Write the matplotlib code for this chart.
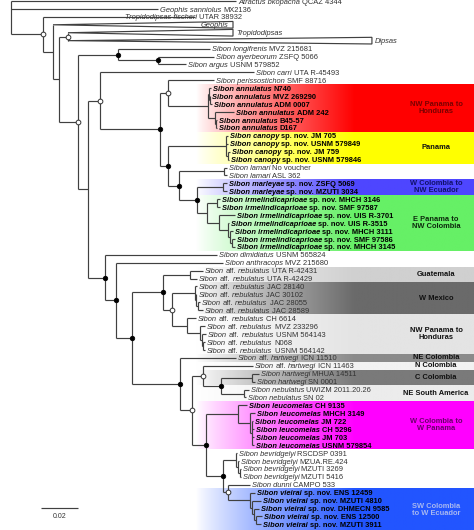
import numpy as np
import matplotlib
matplotlib.use("Agg")
import matplotlib.pyplot as plt
from matplotlib.patches import Polygon

# ---------------- data ----------------
# Newick tree (branch lengths in substitutions/site); leaves are row indices into LABELS
TREE = ("(0:0.1216,1:0.0795,(2:0.0822,(3:0.0973,((4:0.0892,5:0.1643)D:0.0049,"
        "((6:0.0497,(7:0.0303,8:0.0151)F2:0.0216)F:0.0216,"
        "((9:0.0832,"
        "((10:0.0249,((11:0.0011,(12:0.0003,13:0.0011)M1a:0.0005)M1:0.0005,"
        "(14:0.0103,(15:0.0005,16:0.0005)M2a:0.0005)M2:0.0038)M:0.0216)K:0.0043,"
        "((17:0.0011,18:0.0011,(19:0.0011,20:0.0005)P1:0.0011)P:0.0314,"
        "((21:0.0016,22:0.0016)Lam:0.0243,((23:0.0022,24:0.0022)Mar:0.0141,"
        "((25:0.0016,26:0.0016)S1:0.0054,(27:0.0086,(28:0.0005,(29:0.0016,"
        "(30:0.0016,31:0.0016)S5:0.0011)S4:0.0011)S3:0.0049)S2:0.0065)S:0.0054)R:0.0097)Q:0.0059)L:0.0043"
        ")J:0.0324)H:0.0065,"
        "(32:0.0605,(33:0.0578,"
        "(((34:0.0070,35:0.0038)Guat:0.0146,"
        "((36:0.0011,(37:0.0003,(38:0.0011,39:0.0027)Mex2:0.0011)Mex1:0.0005)Mex:0.0124,"
        "(40:0.0049,(41:0.0027,(42:0.0022,(43:0.0011,44:0.0011)Z3:0.0005)Z2:0.0011)Z:0.0070)Y:0.0081)X:0.0049)V:0.0168,"
        "(45:0.0303,"
        "((46:0.0270,((47:0.0038,48:0.0016)Hart:0.0168,(49:0.0027,50:0.0011)Neb:0.0124)AD:0.0097)AB:0.0059,"
        "((51:0.0049,(52:0.0027,(53:0.0005,54:0.0011,55:0.0011,56:0.0011)LC:0.0011)LB:0.0065)LA:0.0173,"
        "((57:0.0005,(58:0.0005,(59:0.0005,60:0.0005)BC:0.0011)BB:0.0011)BA:0.0070,"
        "(61:0.0119,(62:0.0027,(63:0.0049,(64:0.0027,(65:0.0032,66:0.0027)VD:0.0011)VC:0.0011)VB:0.0011)VA:0.0119)AF:0.0027"
        ")AE:0.0092)AC:0.0076)AA:0.0065)W:0.0259)U:0.0086)T:0.0059)I:0.0092"
        ")G:0.0054)E:0.0103)C:0.0032)B:0.0054)A:0.0173)Root;")

LABELS = [
    "*Atractus bkopacha* QCAZ 4344",
    "*Geophis sanniolus* MX2136",
    "*Tropidodipsas fischeri* UTAR 38932",
    "*Geophis*",
    "*Tropidodipsas*",
    "*Dipsas*",
    "*Sibon longifrenis* MVZ 215681",
    "*Sibon ayerbeorum* ZSFQ 5066",
    "*Sibon argus* USNM 579852",
    "*Sibon carri* UTA R-45493",
    "*Sibon perissostichon* SMF 88716",
    "*Sibon annulatus* N740",
    "*Sibon annulatus* MVZ 269290",
    "*Sibon annulatus* ADM 0007",
    "*Sibon annulatus* ADM 242",
    "*Sibon annulatus* B45-57",
    "*Sibon annulatus* D167",
    "*Sibon canopy* sp. nov. JM 705",
    "*Sibon canopy* sp. nov. USNM 579849",
    "*Sibon canopy* sp. nov. JM 759",
    "*Sibon canopy* sp. nov. USNM 579846",
    "*Sibon lamari* No voucher",
    "*Sibon lamari* ASL 362",
    "*Sibon marleyae* sp. nov. ZSFQ 5069",
    "*Sibon marleyae* sp. nov. MZUTI 3034",
    "*Sibon irmelindicaprioae* sp. nov. MHCH 3146",
    "*Sibon irmelindicaprioae* sp. nov. SMF 97587",
    "*Sibon irmelindicaprioae* sp. nov. UIS R-3701",
    "*Sibon irmelindicaprioae* sp. nov. UIS R-3515",
    "*Sibon irmelindicaprioae* sp. nov. MHCH 3111",
    "*Sibon irmelindicaprioae* sp. nov. SMF 97586",
    "*Sibon irmelindicaprioae* sp. nov. MHCH 3145",
    "*Sibon dimidiatus* USNM 565824",
    "*Sibon anthracops* MVZ 215680",
    "*Sibon* aff. *nebulatus* UTA R-42431",
    "*Sibon* aff. *nebulatus* UTA R-42429",
    "*Sibon* aff. *nebulatus* JAC 28140",
    "*Sibon* aff. *nebulatus* JAC 30102",
    "*Sibon* aff. *nebulatus* JAC 28055",
    "*Sibon* aff. *nebulatus* JAC 28589",
    "*Sibon* aff. *nebulatus* CH 6614",
    "*Sibon* aff. *nebulatus* MVZ 233296",
    "*Sibon* aff. *nebulatus* USNM 564143",
    "*Sibon* aff. *nebulatus* N068",
    "*Sibon* aff. *nebulatus* USNM 564142",
    "*Sibon* aff. *hartwegi* ICN 11510",
    "*Sibon* aff. *hartwegi* ICN 11463",
    "*Sibon hartwegi* MHUA 14511",
    "*Sibon hartwegi* SN 0001",
    "*Sibon nebulatus* UWIZM 2011.20.26",
    "*Sibon nebulatus* SN 02",
    "*Sibon leucomelas* CH 9135",
    "*Sibon leucomelas* MHCH 3149",
    "*Sibon leucomelas* JM 722",
    "*Sibon leucomelas* CH 5296",
    "*Sibon leucomelas* JM 703",
    "*Sibon leucomelas* USNM 579854",
    "*Sibon bevridgelyi* RSCDSP 0391",
    "*Sibon bevridgelyi* MZUA.RE.424",
    "*Sibon bevridgelyi* MZUTI 3269",
    "*Sibon bevridgelyi* MZUTI 5416",
    "*Sibon dunni* CAMPO 533",
    "*Sibon vieirai* sp. nov. ENS 12459",
    "*Sibon vieirai* sp. nov. MZUTI 4810",
    "*Sibon vieirai* sp. nov. DHMECN 9585",
    "*Sibon vieirai* sp. nov. ENS 12500",
    "*Sibon vieirai* sp. nov. MZUTI 3911",
]

BOLD_ROWS = list(range(11, 21)) + list(range(23, 32)) + list(range(51, 57)) + list(range(62, 67))
COLLAPSED_ROWS = [3, 4, 5]
FILLED_NODES = ["F", "F2", "J", "L", "Q", "R", "I", "T", "U", "V", "W", "AD", "AC", "AE"]
OPEN_NODES = ["A", "D", "E", "H", "K", "X", "AA", "AB", "AF"]

REGION_NAMES = ["NW Panama to\nHonduras", "Panama", "W Colombia to\nNW Ecuador",
                "E Panama to\nNW Colombia", "Guatemala", "W Mexico", "NW Panama to\nHonduras",
                "NE Colombia", "N Colombia", "C Colombia", "NE South America",
                "W Colombia to\nW Panama", "SW Colombia\nto W Ecuador"]
REGION_FIRST = [11, 17, 23, 25, 34, 36, 40, 45, 46, 47, 49, 51, 62]
REGION_LAST = [16, 20, 24, 31, 35, 39, 44, 45, 46, 48, 50, 56, 67]
REGION_COLORS = ["#ff0000", "#ffff00", "#4e46ff", "#66f066", "#d0d0d0", "#6a6a6a", "#e4e4e4",
                 "#8a8a8a", "#f2f2f2", "#7a7a7a", "#ececec", "#ff00ff", "#2255ff"]
REGION_TEXT_COLORS = ["#7a0000", "#111111", "#10106a", "#0d2a0d", "#111111", "#111111", "#111111",
                      "#111111", "#111111", "#111111", "#111111", "#6a006a", "#a8b8f0"]
SCALE_VALUE = 0.02

# ---------------- layout constants ----------------
W_PX, H_PX = 474, 530
PX_PER_UNIT = 1850.0      # scale bar 0.02 = 37 px
ROOT_PX = 11.0
ROW0_PX = 1.0
PX_PER_ROW = 7.93
FS = 5.45
FONT = "Liberation Sans"
LINE_C = "#404040"
LW = 0.85


def parse_newick(s):
    pos = 0

    def node():
        nonlocal pos
        children = []
        if s[pos] == "(":
            pos += 1
            while True:
                children.append(node())
                if s[pos] == ",":
                    pos += 1
                    continue
                if s[pos] == ")":
                    pos += 1
                    break
        start = pos
        while pos < len(s) and s[pos] not in ":,);":
            pos += 1
        name = s[start:pos]
        bl = 0.0
        if pos < len(s) and s[pos] == ":":
            pos += 1
            start = pos
            while s[pos] not in ",);":
                pos += 1
            bl = float(s[start:pos])
        return {"name": name, "bl": bl, "children": children}

    return node()


def layout(n, x0):
    n["x"] = x0 + n["bl"]
    if n["children"]:
        for c in n["children"]:
            layout(c, n["x"])
        n["y"] = (n["children"][0]["y"] + n["children"][-1]["y"]) / 2.0
    else:
        n["y"] = float(int(n["name"]))


root = parse_newick(TREE)
root["bl"] = 0.0
layout(root, 0.0)

fig = plt.figure(figsize=(W_PX / 100, H_PX / 100), dpi=100)
ax = fig.add_axes([0, 0, 1, 1])
ax.axis("off")
xmin = -ROOT_PX / PX_PER_UNIT
xmax = (W_PX - ROOT_PX) / PX_PER_UNIT
ytop = (0 - ROW0_PX) / PX_PER_ROW
ybot = (H_PX - ROW0_PX) / PX_PER_ROW
ax.set_xlim(xmin, xmax)
ax.set_ylim(ybot, ytop)


def px2x(px):
    return (px - ROOT_PX) / PX_PER_UNIT


# ---------------- region boxes ----------------
g0, g1 = px2x(196), px2x(355)
xs = np.linspace(g0, xmax, 400)
alpha = np.clip((xs - g0) / (g1 - g0), 0, 1) ** 0.85
for name, r0, r1, col, tcol in zip(REGION_NAMES, REGION_FIRST, REGION_LAST, REGION_COLORS, REGION_TEXT_COLORS):
    rgb = np.array(matplotlib.colors.to_rgb(col))
    arr = np.ones((1, len(xs), 3))
    arr[0] = (1 - alpha[:, None]) * 1.0 + alpha[:, None] * rgb[None, :]
    ax.imshow(arr, extent=(g0, xmax, r1 + 0.5, r0 - 0.5), aspect="auto",
              interpolation="bilinear", zorder=0)
    yc = (r0 + r1) / 2.0 if r1 <= 66 else (r0 + 66.3) / 2.0
    ax.text(px2x(436), yc, name, ha="center", va="center", fontsize=FS, fontweight="bold",
            color=tcol, family=FONT, linespacing=1.05, zorder=5)

ax.set_xlim(xmin, xmax)
ax.set_ylim(ybot, ytop)

# ---------------- tree ----------------
nodes_by_name = {}


def draw(n):
    if n["children"]:
        nodes_by_name[n["name"]] = n
        ys = [c["y"] for c in n["children"]]
        ax.plot([n["x"], n["x"]], [min(ys), max(ys)], color=LINE_C, lw=LW, solid_capstyle="butt", zorder=3)
        for c in n["children"]:
            leaf = not c["children"]
            if leaf and int(c["name"]) in COLLAPSED_ROWS:
                h = 0.42
                poly = Polygon([[n["x"], c["y"]], [c["x"], c["y"] - h], [c["x"], c["y"] + h]],
                               closed=True, facecolor="white", edgecolor=LINE_C, lw=LW, zorder=3)
                ax.add_patch(poly)
            else:
                ax.plot([n["x"], c["x"]], [c["y"], c["y"]], color=LINE_C, lw=LW,
                        solid_capstyle="butt", zorder=3)
            draw(c)


draw(root)

for nm in FILLED_NODES:
    n = nodes_by_name[nm]
    ax.plot(n["x"], n["y"], "o", ms=3.3, mfc="black", mec="black", mew=0.5, zorder=6)
for nm in OPEN_NODES:
    n = nodes_by_name[nm]
    ax.plot(n["x"], n["y"], "o", ms=3.4, mfc="white", mec="#333333", mew=0.7, zorder=6)

# ---------------- leaf labels ----------------
fig.canvas.draw()
renderer = fig.canvas.get_renderer()
inv = ax.transData.inverted()
space_px = 0.25 * FS * 100 / 72.0
label_override_px = {2: 125, 3: 201}


def leaves(n, out):
    if n["children"]:
        for c in n["children"]:
            leaves(c, out)
    else:
        out.append(n)
    return out


for lf in leaves(root, []):
    row = int(lf["name"])
    bold = row in BOLD_ROWS
    color = "black" if bold else "#333333"
    if row in label_override_px:
        cur = px2x(label_override_px[row])
    else:
        cur = lf["x"] + 2.2 / PX_PER_UNIT
    if row in COLLAPSED_ROWS and row not in label_override_px:
        cur = lf["x"] + 3.0 / PX_PER_UNIT
    parts = LABELS[row].split("*")
    for i, p in enumerate(parts):
        p = p.strip()
        if not p:
            continue
        t = ax.text(cur, row + 0.33, p, fontsize=FS, family=FONT,
                    fontstyle="italic" if i % 2 == 1 else "normal",
                    fontweight="bold" if bold else "normal",
                    color=color, ha="left", va="baseline", zorder=7)
        bb = t.get_window_extent(renderer)
        cur = inv.transform((bb.x1 + space_px, bb.y0))[0]

# ---------------- scale bar ----------------
sb_x0 = px2x(41)
sb_y = (508 - ROW0_PX) / PX_PER_ROW
ax.plot([sb_x0, sb_x0 + SCALE_VALUE], [sb_y, sb_y], color=LINE_C, lw=LW, solid_capstyle="butt")
ax.text(sb_x0 + SCALE_VALUE / 2, sb_y + 1.3, f"{SCALE_VALUE:.2f}", ha="center", va="baseline",
        fontsize=FS - 0.4, family=FONT, color="#333333")

ax.set_xlim(xmin, xmax)
ax.set_ylim(ybot, ytop)
fig.savefig("out.png", dpi=100)
